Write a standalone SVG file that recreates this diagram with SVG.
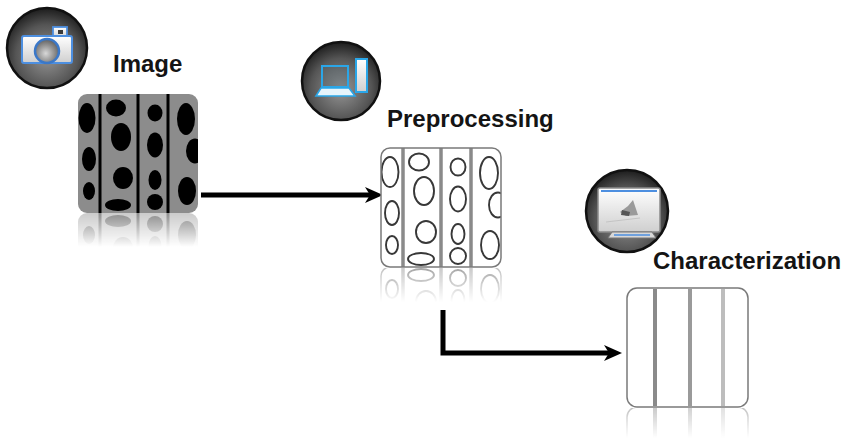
<svg xmlns="http://www.w3.org/2000/svg" xmlns:xlink="http://www.w3.org/1999/xlink" width="842" height="438" viewBox="0 0 842 438">
  <style>
    .label { font-family: "Liberation Sans", Arial, sans-serif; font-weight: bold; font-size: 24px; fill: #141414; }
    .ball { fill: url(#sphere); stroke: #111; stroke-width: 2.5; }
    .flow { fill: none; stroke: #000; stroke-width: 5; }
    .frame { fill: none; stroke: #7a7a7a; stroke-width: 1.5; }
  </style>
  <defs>
    <radialGradient id="sphere" cx="0.5" cy="0.6" r="0.6">
      <stop offset="0" stop-color="#969696"/>
      <stop offset="0.65" stop-color="#555"/>
      <stop offset="1" stop-color="#1c1c1c"/>
    </radialGradient>
    <linearGradient id="silver" x1="0" y1="0" x2="0" y2="1">
      <stop offset="0" stop-color="#ffffff"/>
      <stop offset="1" stop-color="#cfcfcf"/>
    </linearGradient>
    <radialGradient id="lens" cx="0.45" cy="0.6" r="0.6">
      <stop offset="0" stop-color="#d8d8d8"/>
      <stop offset="1" stop-color="#5e5e5e"/>
    </radialGradient>
    <linearGradient id="fade" x1="0" y1="0" x2="0" y2="1">
      <stop offset="0" stop-color="#fff" stop-opacity="0.45"/>
      <stop offset="1" stop-color="#fff" stop-opacity="0"/>
    </linearGradient>

    <marker id="head" viewBox="0 0 18 16" markerWidth="18" markerHeight="16" refX="5" refY="8" orient="auto" markerUnits="userSpaceOnUse">
      <path d="M0,0 L18,8 L0,16 L5,8 Z" fill="#000"/>
    </marker>

    <clipPath id="boxClip"><rect width="120" height="119" rx="9"/></clipPath>

    <!-- cell pattern shared by the raw and the outlined tile -->
    <g id="blobs">
      <ellipse cx="9" cy="24" rx="8.5" ry="15"/>
      <ellipse cx="11" cy="65" rx="7" ry="12"/>
      <ellipse cx="11" cy="97" rx="6" ry="9"/>
      <ellipse cx="38" cy="14" rx="10" ry="8.5"/>
      <ellipse cx="43" cy="43" rx="10" ry="14"/>
      <ellipse cx="45" cy="84" rx="10" ry="11"/>
      <ellipse cx="40" cy="111" rx="13" ry="6"/>
      <ellipse cx="77" cy="19" rx="7.5" ry="8.5"/>
      <ellipse cx="77" cy="51" rx="8" ry="12.5"/>
      <ellipse cx="77" cy="86" rx="6.5" ry="10"/>
      <ellipse cx="77" cy="108" rx="8" ry="8"/>
      <ellipse cx="108" cy="25" rx="9" ry="16"/>
      <ellipse cx="117" cy="57" rx="9" ry="12.5"/>
      <ellipse cx="109" cy="97" rx="9" ry="14"/>
    </g>

    <g id="rawTile">
      <g clip-path="url(#boxClip)">
        <rect width="120" height="119" fill="#8c8c8c"/>
        <use xlink:href="#blobs" fill="#000"/>
        <g stroke="#000" stroke-width="3">
          <line x1="22" y1="0" x2="22" y2="119"/>
          <line x1="60" y1="0" x2="60" y2="119"/>
          <line x1="90" y1="0" x2="90" y2="119"/>
        </g>
      </g>
    </g>

    <g id="edgeTile">
      <rect width="120" height="119" rx="9" fill="#fff"/>
      <g clip-path="url(#boxClip)">
        <use xlink:href="#blobs" fill="none" stroke="#383838" stroke-width="1.9"/>
        <g stroke="#8a8a8a" stroke-width="3.5">
          <line x1="22" y1="0" x2="22" y2="119"/>
          <line x1="60" y1="0" x2="60" y2="119"/>
          <line x1="90" y1="0" x2="90" y2="119"/>
        </g>
      </g>
      <rect width="120" height="119" rx="9" class="frame"/>
    </g>

    <g id="stripeTile">
      <rect width="121" height="119" rx="10" fill="#fff"/>
      <line x1="28" y1="1" x2="28" y2="118" stroke="#8a8a8a" stroke-width="4"/>
      <line x1="63" y1="1" x2="63" y2="118" stroke="#9a9a9a" stroke-width="4"/>
      <line x1="96" y1="1" x2="96" y2="118" stroke="#bdbdbd" stroke-width="4"/>
      <rect width="121" height="119" rx="10" class="frame"/>
    </g>

    <mask id="fadeImage" maskUnits="userSpaceOnUse" x="0" y="0" width="842" height="438">
      <rect x="70" y="213" width="140" height="34" fill="url(#fade)"/>
    </mask>
    <mask id="fadePre" maskUnits="userSpaceOnUse" x="0" y="0" width="842" height="438">
      <rect x="375" y="268" width="135" height="34" fill="url(#fade)"/>
    </mask>
    <mask id="fadeChar" maskUnits="userSpaceOnUse" x="0" y="0" width="842" height="438">
      <rect x="620" y="408" width="135" height="30" fill="url(#fade)"/>
    </mask>
  </defs>

  <rect width="842" height="438" fill="#fff"/>

  <!-- connectors -->
  <g id="connectors">
    <line class="flow" x1="201" y1="195" x2="370" y2="195" marker-end="url(#head)"/>
    <path class="flow" d="M443,310 V353 H609" marker-end="url(#head)"/>
  </g>

  <!-- acquisition step -->
  <g id="node-image">
    <circle class="ball" cx="47" cy="48" r="40"/>
    <rect x="53" y="27" width="14" height="11" fill="url(#silver)" stroke="#4d8fe0" stroke-width="1.8"/>
    <rect x="58" y="30" width="5" height="4" fill="#3a3a3a"/>
    <rect x="22" y="36" width="50" height="27" rx="2" fill="url(#silver)" stroke="#4d8fe0" stroke-width="2"/>
    <circle cx="47" cy="51" r="12" fill="url(#lens)" stroke="#3b78c8" stroke-width="2.5"/>
    <text class="label" x="113" y="72">Image</text>
    <use xlink:href="#rawTile" transform="translate(78,94)"/>
    <g mask="url(#fadeImage)">
      <use xlink:href="#rawTile" transform="translate(78,332) scale(1,-1)"/>
    </g>
  </g>

  <!-- preprocessing step -->
  <g id="node-preprocessing">
    <circle class="ball" cx="341" cy="81" r="39"/>
    <rect x="322" y="66" width="26" height="21" fill="#5a6a74" fill-opacity="0.35" stroke="#2aa6e8" stroke-width="2"/>
    <path d="M321,88 H349 L355,96 H316 Z" fill="#e6f4fb" stroke="#2aa6e8" stroke-width="1.6"/>
    <rect x="356" y="59" width="11" height="33" fill="url(#silver)" stroke="#2aa6e8" stroke-width="2"/>
    <text class="label" x="387" y="127">Preprocessing</text>
    <use xlink:href="#edgeTile" transform="translate(381,148)"/>
    <g mask="url(#fadePre)">
      <use xlink:href="#edgeTile" transform="translate(381,386) scale(1,-1)"/>
    </g>
  </g>

  <!-- characterization step -->
  <g id="node-characterization">
    <circle class="ball" cx="627" cy="211" r="41"/>
    <rect x="598" y="188" width="62" height="44" rx="2" fill="url(#silver)" stroke="#8a8a8a" stroke-width="1.5"/>
    <line x1="601" y1="191" x2="657" y2="191" stroke="#4d8fe0" stroke-width="2"/>
    <path d="M612,232 H652 L656,238 H608 Z" fill="#d8d8d8" stroke="#777" stroke-width="1"/>
    <line x1="614" y1="235" x2="650" y2="235" stroke="#4d8fe0" stroke-width="1.5"/>
    <path d="M620,212 L628,206 L633,200 L636,209 L638,215 L626,216 Z" fill="#9a9a9a"/>
    <path d="M622,210 L630,212 L629,216 L621,215 Z" fill="#555"/>
    <line x1="606" y1="222" x2="640" y2="218" stroke="#c4c4c4" stroke-width="1"/>
    <text class="label" x="653" y="269">Characterization</text>
    <use xlink:href="#stripeTile" transform="translate(627,288)"/>
    <g mask="url(#fadeChar)">
      <use xlink:href="#stripeTile" transform="translate(627,526) scale(1,-1)"/>
    </g>
  </g>
</svg>
